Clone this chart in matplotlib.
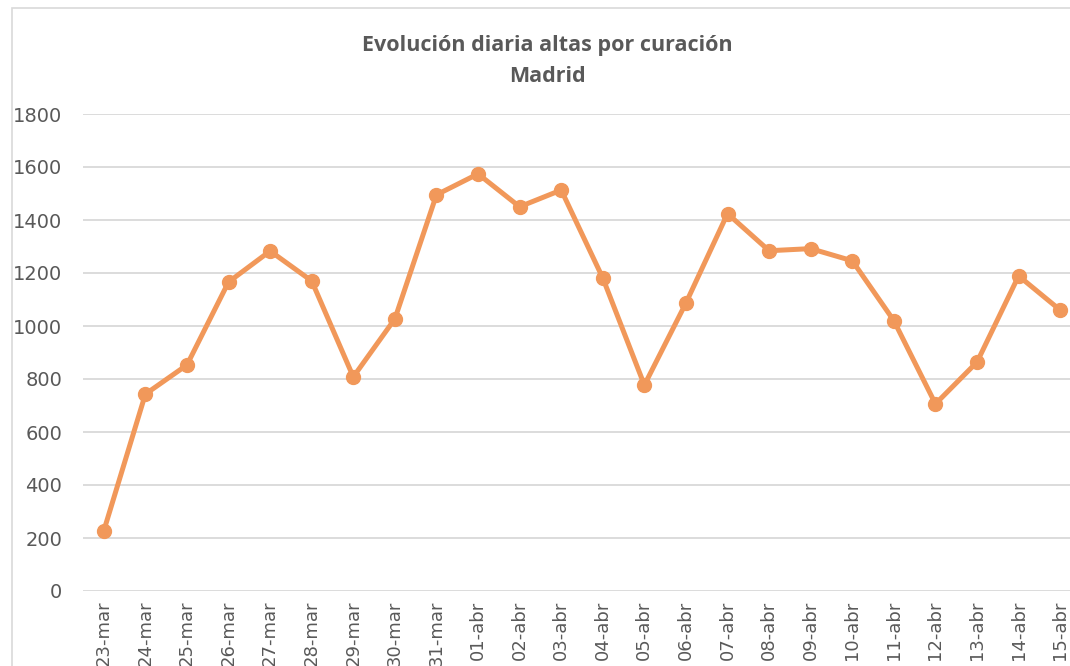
import matplotlib.pyplot as plt
from matplotlib.patches import Rectangle

# Datos: altas diarias por curación en Madrid
fechas = ["23-mar", "24-mar", "25-mar", "26-mar", "27-mar", "28-mar", "29-mar",
          "30-mar", "31-mar", "01-abr", "02-abr", "03-abr", "04-abr", "05-abr",
          "06-abr", "07-abr", "08-abr", "09-abr", "10-abr", "11-abr", "12-abr",
          "13-abr", "14-abr", "15-abr"]
altas = [227, 743, 853, 1166, 1283, 1170, 808, 1027, 1495, 1574, 1450, 1513,
         1181, 777, 1087, 1424, 1284, 1292, 1246, 1020, 706, 864, 1189, 1060]
y_ticks = [0, 200, 400, 600, 800, 1000, 1200, 1400, 1600, 1800]

gris = "#595959"
naranja = "#F1985A"

W, H = 1070, 666
fig = plt.figure(figsize=(W / 100, H / 100), dpi=100)

# Borde del gráfico (estilo Excel, recortado a la derecha y abajo)
fig.patches.append(Rectangle((12 / W, -0.05), 1.2, 1 - 8 / H + 0.05,
                             transform=fig.transFigure, fill=False,
                             edgecolor="#D9D9D9", linewidth=1.2))

# Área de trazado
ax_left, ax_right = 83 / W, 1081 / W
ax_bottom, ax_top = 1 - 591 / H, 1 - 114 / H
ax = fig.add_axes([ax_left, ax_bottom, ax_right - ax_left, ax_top - ax_bottom])

x = list(range(len(fechas)))
ax.plot(x, altas, color=naranja, linewidth=3.6, marker="o", markersize=10,
        solid_joinstyle="round", zorder=3)

ax.set_xlim(-0.5, len(fechas) - 0.5)
ax.set_ylim(0, 1800)
ax.set_yticks(y_ticks)
ax.set_xticks(x)
ax.set_xticklabels(fechas, rotation=90, fontsize=13, color=gris)
ax.tick_params(axis="y", labelsize=14, colors=gris, length=0, pad=15)
ax.tick_params(axis="x", length=0, pad=7, colors=gris)

ax.grid(axis="y", color="#D9D9D9", linewidth=1.3)
ax.set_axisbelow(True)
for s in ax.spines.values():
    s.set_visible(False)

fig.text(547 / W, 1 - 45 / H, "Evolución diaria altas por curación",
         ha="center", va="center", fontsize=15.5, fontweight="bold", color=gris,
         family="Open Sans")
fig.text(547 / W, 1 - 76 / H, "Madrid",
         ha="center", va="center", fontsize=15.5, fontweight="bold", color=gris,
         family="Open Sans")

fig.savefig("out.png", dpi=100)
